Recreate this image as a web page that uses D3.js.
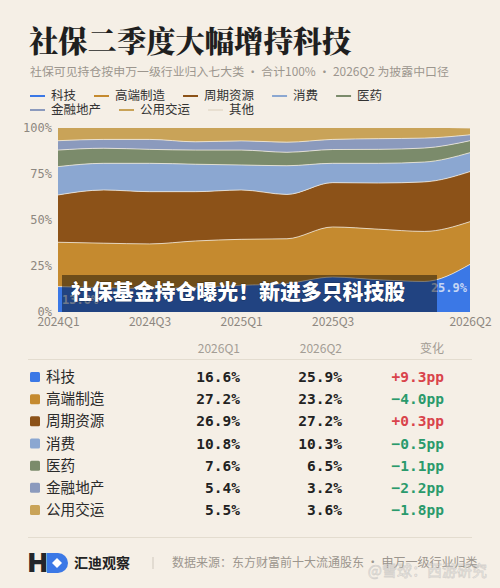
<!DOCTYPE html>
<html>
<head>
<meta charset="utf-8">
<script src="https://cdn.jsdelivr.net/npm/d3@7"></script>
<style>
  body { margin: 0; background: #f5efe6; }
  svg { display: block; }
</style>
</head>
<body>
<script>
var swidth = 500,
    sheight = 588;

// --- data ---------------------------------------------------------------
var quarters = ["2024Q1", "2024Q2", "2024Q3", "2024Q4", "2025Q1",
                "2025Q2", "2025Q3", "2025Q4", "2026Q1", "2026Q2"];
var tickQuarters = ["2024Q1", "2024Q3", "2025Q1", "2025Q3", "2026Q2"];

var sectors = ["科技", "高端制造", "周期资源", "消费", "医药", "金融地产", "公用交运", "其他"];
var sectorColors = ["#3b78e6", "#c58a2f", "#8c5218", "#8ba7d1", "#7b8b6b", "#8b9abd", "#c9a358", "#e8dfd1"];

// share of holdings, %
var tech     = [13.8, 13.2, 12.8, 13.5, 14.5, 15.5, 19.0, 17.5, 16.6, 25.9];
var highMfg  = [24.1, 24.2, 24.2, 25.1, 25.0, 24.3, 27.2, 27.5, 27.2, 23.2];
var cyclical = [25.7, 28.9, 28.4, 26.8, 26.8, 24.1, 24.1, 25.1, 26.9, 27.2];
var consumer = [15.4, 14.5, 15.4, 14.9, 13.6, 15.6, 10.5, 10.7, 10.8, 10.3];
var pharma   = [ 9.0,  8.2,  7.6,  7.7,  8.1,  7.3,  7.5,  7.6,  7.6,  6.5];
var finance  = [ 5.1,  4.8,  5.4,  4.5,  5.0,  5.5,  5.5,  5.8,  5.4,  3.2];
var utility  = [ 6.9,  6.2,  6.2,  7.5,  7.0,  7.7,  6.2,  5.8,  5.5,  3.6];
var others   = [ 0.0,  0.0,  0.0,  0.0,  0.0,  0.0,  0.0,  0.0,  0.0,  0.1];

var tableSectors = ["科技", "高端制造", "周期资源", "消费", "医药", "金融地产", "公用交运"];
var table2026Q1 = [16.6, 27.2, 26.9, 10.8, 7.6, 5.4, 5.5];
var table2026Q2 = [25.9, 23.2, 27.2, 10.3, 6.5, 3.2, 3.6];
var tableChange = [9.3, -4.0, 0.3, -0.5, -1.1, -2.2, -1.8];

var yTicks = [0, 25, 50, 75, 100];

// --- setup --------------------------------------------------------------
var sans = "'Noto Sans CJK SC', 'Noto Sans', sans-serif";
var mono = "'DejaVu Sans Mono', monospace";

var series = [tech, highMfg, cyclical, consumer, pharma, finance, utility, others];
var rows = quarters.map(function(q, i) {
  var r = {quarter: q};
  sectors.forEach(function(s, k) { r[s] = series[k][i]; });
  return r;
});

var color = d3.scaleOrdinal().domain(sectors).range(sectorColors);

var svg = d3.select("body").append("svg")
    .attr("width", swidth)
    .attr("height", sheight);

svg.append("rect")
    .attr("width", swidth)
    .attr("height", sheight)
    .attr("fill", "#f5efe6");

// title
svg.append("text")
    .attr("x", 29)
    .attr("y", 52)
    .attr("font-family", "'Noto Serif CJK SC', " + sans)
    .attr("font-weight", 900)
    .attr("font-size", 29.3)
    .attr("fill", "#1f1f1f")
    .text("社保二季度大幅增持科技");

svg.append("text")
    .attr("x", 30)
    .attr("y", 76)
    .attr("font-family", sans)
    .attr("font-size", 11.9)
    .attr("fill", "#9c968e")
    .text("社保可见持仓按申万一级行业归入七大类 · 合计100% · 2026Q2 为披露中口径");

// legend (flow layout, wraps)
var legend = svg.append("g").attr("class", "legend");
var lx = 30, ly = 96;
sectors.forEach(function(s) {
  var g = legend.append("g");
  var t = g.append("text")
      .attr("x", 21)
      .attr("dy", "0.35em")
      .attr("font-family", sans)
      .attr("font-size", 12.5)
      .attr("fill", "#333")
      .text(s);
  var w = 21 + t.node().getComputedTextLength();
  if (lx + w > 445) { lx = 30; ly += 14; }
  g.attr("transform", "translate(" + lx + "," + ly + ")");
  g.append("line")
      .attr("x1", 0).attr("x2", 15)
      .attr("stroke", color(s))
      .attr("stroke-width", 2);
  lx += w + 18;
});

// --- stacked area ---------------------------------------------------------
var x = d3.scalePoint()
    .domain(quarters)
    .range([58, 470]);

var y = d3.scaleLinear()
    .domain([0, 100])
    .range([312, 128]);

var stack = d3.stack().keys(sectors);
var layers = stack(rows);

var area = d3.area()
    .curve(d3.curveMonotoneX)
    .x(function(d) { return x(d.data.quarter); })
    .y0(function(d) { return y(d[0]); })
    .y1(function(d) { return y(d[1]); });

var topLine = d3.line()
    .curve(d3.curveMonotoneX)
    .x(function(d) { return x(d.data.quarter); })
    .y(function(d) { return y(d[1]); });

var chart = svg.append("g").attr("class", "chart");

chart.selectAll("path.layer")
    .data(layers)
  .enter().append("path")
    .attr("class", "layer")
    .attr("d", area)
    .attr("fill", function(d) { return color(d.key); });

chart.selectAll("path.sep")
    .data(layers.slice(0, layers.length - 2))
  .enter().append("path")
    .attr("class", "sep")
    .attr("d", topLine)
    .attr("fill", "none")
    .attr("stroke", "#f6efe2")
    .attr("stroke-opacity", 0.75)
    .attr("stroke-width", 1);

// axes
svg.append("g")
    .attr("transform", "translate(58,0)")
    .call(d3.axisLeft(y).tickValues(yTicks).tickSize(0).tickPadding(6)
      .tickFormat(function(d) { return d + "%"; }))
    .call(function(g) {
      g.select(".domain").remove();
      g.selectAll("text")
        .attr("font-family", mono)
        .attr("font-size", 12)
        .attr("fill", "#8d8780");
    });

svg.append("g")
    .attr("transform", "translate(0,312)")
    .call(d3.axisBottom(x).tickValues(tickQuarters).tickSize(0).tickPadding(5))
    .call(function(g) {
      g.select(".domain").remove();
      g.selectAll("text")
        .attr("font-family", sans)
        .attr("font-size", 12)
        .attr("fill", "#8d8780");
    });

// end labels for 科技
var techLayer = layers[0];
var first = techLayer[0], last = techLayer[techLayer.length - 1];
svg.append("text")
    .attr("x", x(first.data.quarter) + 4)
    .attr("y", y((first[0] + first[1]) / 2))
    .attr("dy", "0.35em")
    .attr("font-family", mono)
    .attr("font-weight", "bold")
    .attr("font-size", 12)
    .attr("fill", "rgba(255,255,255,0.7)")
    .text(d3.format(".1f")(first[1] - first[0]) + "%");
svg.append("text")
    .attr("x", x(last.data.quarter) - 3)
    .attr("y", y((last[0] + last[1]) / 2))
    .attr("dy", "0.35em")
    .attr("text-anchor", "end")
    .attr("font-family", mono)
    .attr("font-weight", "bold")
    .attr("font-size", 12)
    .attr("fill", "rgba(236,240,248,0.8)")
    .text(d3.format(".1f")(last[1] - last[0]) + "%");

// caption banner laid over the chart
svg.append("rect")
    .attr("x", 62)
    .attr("y", 275)
    .attr("width", 375)
    .attr("height", 37)
    .attr("fill", "rgba(0,0,0,0.44)");
svg.append("text")
    .attr("x", 71)
    .attr("y", 292)
    .attr("dy", "0.35em")
    .attr("font-family", sans)
    .attr("font-weight", 900)
    .attr("font-size", 20.9)
    .attr("fill", "#fff")
    .attr("stroke", "rgba(0,0,0,0.35)")
    .attr("stroke-width", 1)
    .attr("paint-order", "stroke")
    .text("社保基金持仓曝光！新进多只科技股");

// --- table ----------------------------------------------------------------
var colQ1 = 240, colQ2 = 342, colChg = 444;
var table = svg.append("g").attr("class", "table");

[["2026Q1", colQ1], ["2026Q2", colQ2], ["变化", colChg]].forEach(function(h) {
  table.append("text")
      .attr("x", h[1])
      .attr("y", 349)
      .attr("dy", "0.35em")
      .attr("text-anchor", "end")
      .attr("font-family", sans)
      .attr("font-size", 12)
      .attr("fill", "#a39d95")
      .text(h[0]);
});

table.append("line")
    .attr("x1", 28).attr("x2", 472)
    .attr("y1", 359.5).attr("y2", 359.5)
    .attr("stroke", "#e3dccf");

var rowY = d3.scalePoint()
    .domain(tableSectors)
    .range([377, 510]);

var tr = table.selectAll("g.row")
    .data(tableSectors)
  .enter().append("g")
    .attr("class", "row")
    .attr("transform", function(d) { return "translate(0," + rowY(d) + ")"; });

tr.append("rect")
    .attr("x", 30).attr("y", -5)
    .attr("width", 10).attr("height", 10)
    .attr("rx", 1.5)
    .attr("fill", function(d) { return color(d); });

tr.append("text")
    .attr("x", 46)
    .attr("dy", "0.35em")
    .attr("font-family", sans)
    .attr("font-size", 14.6)
    .attr("fill", "#2a2a2a")
    .text(function(d) { return d; });

function valText(sel, col, vals) {
  sel.append("text")
      .attr("x", col)
      .attr("dy", "0.35em")
      .attr("text-anchor", "end")
      .attr("font-family", mono)
      .attr("font-weight", "bold")
      .attr("font-size", 14.5)
      .attr("fill", "#222")
      .text(function(d, i) { return vals[i].toFixed(1) + "%"; });
}
valText(tr, colQ1, table2026Q1);
valText(tr, colQ2, table2026Q2);

tr.append("text")
    .attr("x", colChg)
    .attr("dy", "0.35em")
    .attr("text-anchor", "end")
    .attr("font-family", mono)
    .attr("font-weight", "bold")
    .attr("font-size", 14.5)
    .attr("fill", function(d, i) { return tableChange[i] >= 0 ? "#d9434b" : "#2a9a6c"; })
    .text(function(d, i) {
      var c = tableChange[i];
      return (c >= 0 ? "+" : "\u2212") + Math.abs(c).toFixed(1) + "pp";
    });

// --- footer -----------------------------------------------------------------
svg.append("line")
    .attr("x1", 28).attr("x2", 472)
    .attr("y1", 537.5).attr("y2", 537.5)
    .attr("stroke", "#e3dccf");

var logo = svg.append("g").attr("transform", "translate(0,563)");
logo.append("text")
    .attr("x", 28)
    .attr("dy", "0.36em")
    .attr("font-family", "Inter, 'DejaVu Sans', sans-serif")
    .attr("font-weight", 900)
    .attr("font-size", 26)
    .attr("fill", "#23262b")
    .text("H");
logo.append("path")
    .attr("d", "M47,-10H58A10,10 0 0 1 58,10H47Z")
    .attr("fill", "#3b78e6");
logo.append("path")
    .attr("d", "M57,-5L62,0L57,5L52,0Z")
    .attr("fill", "#fff");
logo.append("text")
    .attr("x", 74)
    .attr("dy", "0.35em")
    .attr("font-family", sans)
    .attr("font-weight", 700)
    .attr("font-size", 14)
    .attr("fill", "#222")
    .text("汇迪观察");
logo.append("line")
    .attr("x1", 153).attr("x2", 153)
    .attr("y1", -6).attr("y2", 6)
    .attr("stroke", "#cfc8bd");
logo.append("text")
    .attr("x", 172)
    .attr("dy", "0.35em")
    .attr("font-family", sans)
    .attr("font-size", 12)
    .attr("fill", "#9c968e")
    .text("数据来源：东方财富前十大流通股东 · 申万一级行业归类");

// faint watermark
svg.append("text")
    .attr("x", 487)
    .attr("y", 571)
    .attr("dy", "0.35em")
    .attr("text-anchor", "end")
    .attr("font-family", sans)
    .attr("font-size", 15)
    .attr("fill", "rgba(255,255,255,0.35)")
    .attr("stroke", "rgba(150,150,150,0.35)")
    .attr("stroke-width", 0.8)
    .text("@雪球：西游研究");
</script>
</body>
</html>
